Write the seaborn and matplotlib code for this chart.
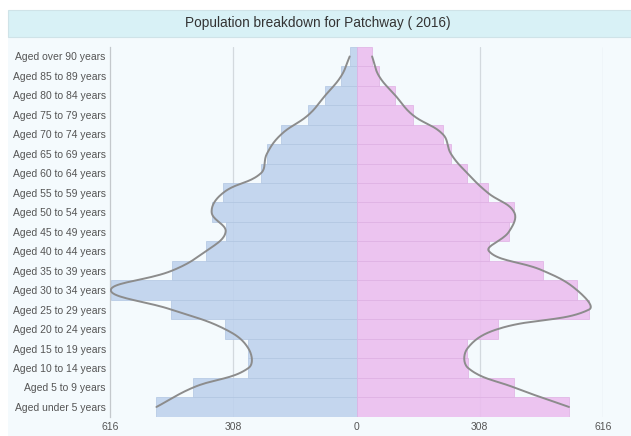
import numpy as np
import pandas as pd
import matplotlib
matplotlib.use("Agg")
import matplotlib.pyplot as plt
from matplotlib.patches import Rectangle
import seaborn as sns

# Population pyramid values
age_groups = [
    "Aged over 90 years", "Aged 85 to 89 years", "Aged 80 to 84 years",
    "Aged 75 to 79 years", "Aged 70 to 74 years", "Aged 65 to 69 years",
    "Aged 60 to 64 years", "Aged 55 to 59 years", "Aged 50 to 54 years",
    "Aged 45 to 49 years", "Aged 40 to 44 years", "Aged 35 to 39 years",
    "Aged 30 to 34 years", "Aged 25 to 29 years", "Aged 20 to 24 years",
    "Aged 15 to 19 years", "Aged 10 to 14 years", "Aged 5 to 9 years",
    "Aged under 5 years",
]
male = [17, 38, 78, 120, 188, 224, 239, 333, 362, 327, 376, 461, 614, 463,
        329, 270, 270, 408, 500]
female = [39, 56, 97, 140, 216, 236, 277, 328, 394, 381, 331, 466, 551, 581,
          353, 277, 279, 394, 531]
axis_max = 616
tick_values = [-616, -308, 0, 308, 616]

sns.set_theme(style="white")
plt.rcParams["font.family"] = ["Liberation Sans", "DejaVu Sans"]

fig = plt.figure(figsize=(6.31, 4.36), dpi=100)
fig.patch.set_facecolor("white")

# panel background and title band
fig.patches.append(Rectangle((8 / 631, 0), 1, 1 - 37 / 436, transform=fig.transFigure,
                             facecolor="#f4fafd", edgecolor="none", zorder=-2))
fig.patches.append(Rectangle((8 / 631, 1 - 37 / 436), 1, 27 / 436, transform=fig.transFigure,
                             facecolor="#d8f1f6", edgecolor="#cfe3e8", linewidth=0.8, zorder=-1))
fig.text(0.503, 1 - 23.5 / 436, "Population breakdown for Patchway ( 2016)",
         ha="center", va="center", fontsize=9.8, color="#333333")

ax = fig.add_axes([110 / 631, 1 - 416.7 / 436, 493 / 631, 370 / 436])
ax.set_facecolor("none")

df = pd.DataFrame({"age": age_groups,
                   "male": -np.array(male, dtype=float),
                   "female": np.array(female, dtype=float)})

sns.barplot(data=df, x="male", y="age", orient="h", color="#bed2ed", width=1.0,
            saturation=1, alpha=0.88, edgecolor="#b3c7e2", linewidth=0.6, ax=ax, zorder=2)
sns.barplot(data=df, x="female", y="age", orient="h", color="#ebbdef", width=1.0,
            saturation=1, alpha=0.88, edgecolor="#dfb1e4", linewidth=0.6, ax=ax, zorder=2)


def spline_curve(values, rows, sx, sy, tension=0.4, steps=20):
    # Chart.js style bezier smoothing, computed in pixel space
    p = np.column_stack([np.asarray(values) * sx, np.asarray(rows) * sy])
    n = len(p)
    cp_prev = np.zeros_like(p)
    cp_next = np.zeros_like(p)
    for i in range(n):
        prev = p[i - 1] if i > 0 else p[i]
        nxt = p[i + 1] if i < n - 1 else p[i]
        d01 = np.hypot(*(p[i] - prev))
        d12 = np.hypot(*(nxt - p[i]))
        tot = d01 + d12
        s01 = d01 / tot if tot else 0
        s12 = d12 / tot if tot else 0
        cp_prev[i] = p[i] - tension * s01 * (nxt - prev)
        cp_next[i] = p[i] + tension * s12 * (nxt - prev)
    t = np.linspace(0, 1, steps)[:, None]
    pts = []
    for i in range(n - 1):
        a, b, c, d = p[i], cp_next[i], cp_prev[i + 1], p[i + 1]
        seg = ((1 - t) ** 3) * a + 3 * ((1 - t) ** 2) * t * b + 3 * (1 - t) * t ** 2 * c + t ** 3 * d
        pts.append(seg)
    pts = np.vstack(pts)
    return pts[:, 0] / sx, pts[:, 1] / sy


rows = np.arange(len(age_groups))
sx = 247 / axis_max
sy = 370 / len(age_groups)
for series, sign in ((male, -1), (female, 1)):
    cx, cy = spline_curve(sign * np.array(series, dtype=float), rows, sx, sy)
    cx = np.clip(cx, -axis_max, axis_max)
    ax.plot(cx, cy, color="#8c8c8c", linewidth=1.4, zorder=4, solid_capstyle="round")

ax.set_xlim(-axis_max, axis_max)
ax.set_ylim(len(age_groups) - 0.5, -0.5)
ax.set_xticks(tick_values)
ax.set_xticklabels([str(abs(v)) for v in tick_values])
for v in (-308, 308, 616):
    ax.axvline(v, color="#d3d9de", linewidth=0.9, zorder=1)

ax.set_xlabel("")
ax.set_ylabel("")
for side in ("top", "right", "bottom"):
    ax.spines[side].set_visible(False)
ax.spines["left"].set_color("#c4c8cc")
ax.spines["left"].set_linewidth(0.9)
ax.tick_params(axis="both", length=0, labelsize=7.5, labelcolor="#555555")
ax.tick_params(axis="y", pad=3)
ax.tick_params(axis="x", pad=4)

fig.savefig("out.png", dpi=100)
